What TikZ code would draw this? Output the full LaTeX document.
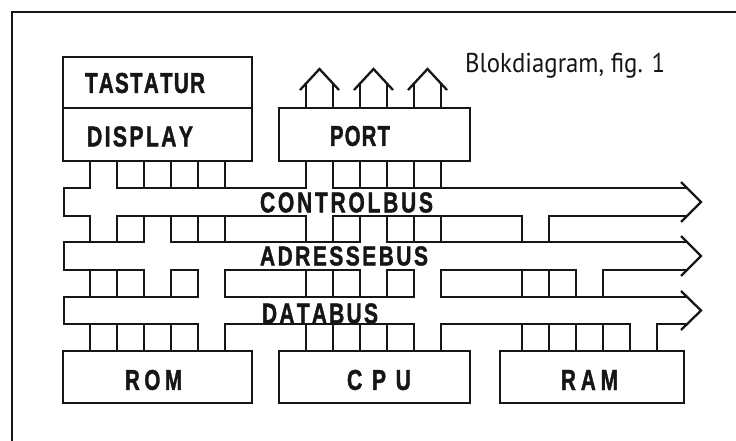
\documentclass[tikz,border=0pt]{standalone}
\usepackage{fontspec}
\usepackage{graphicx}
\newfontfamily\labfont{Liberation Sans}[BoldFeatures={FakeBold=1.6}]
\newfontfamily\blokfont{PT Sans}
\makeatletter
\newcommand\spc[2]{\def\spc@g{#1}\@tfor\spc@t:=#2\do{\spc@t\kern\spc@g}\unkern}
\makeatother
\newcommand\lbl[4][20]{\resizebox{#2pt}{#1pt}{\labfont\bfseries\spc{#3pt}{#4}}}
\definecolor{ink}{RGB}{22,22,22}
\tikzset{
  wire/.style={draw=ink,line width=2.3pt,line cap=rect},
  head/.style={draw=ink,line width=2.3pt,line join=miter,line cap=butt},
  boxline/.style={draw=ink,line width=2.5pt},
  frameline/.style={draw=ink,line width=1.6pt},
  txt/.style={inner sep=0pt,text=ink}
}
\begin{document}
\begin{tikzpicture}[x=1pt,y=-1pt]
\useasboundingbox (0,0) rectangle (736,441);
\fill[white] (0,0) rectangle (736,441);
% frame
\draw[frameline] (736,12) -- (12,12) -- (12,441);
% boxes
\draw[boxline] (63,57) rectangle (252,161);
\draw[boxline] (63,108) -- (252,108);
\draw[boxline] (279,108) rectangle (470,161);
\draw[boxline] (63,351) rectangle (252,403);
\draw[boxline] (279,351) rectangle (470,403);
\draw[boxline] (500,351) rectangle (684,403);
% up arrows on PORT
\foreach \xa in {306,360,414}{
  \pgfmathsetmacro\xb{\xa+27}
  \pgfmathsetmacro\xc{\xa+13.5}
  \draw[wire] (\xa,108) -- (\xa,84);
  \draw[wire] (\xb,108) -- (\xb,84);
  \draw[head] ({\xa-6},90) -- (\xc,69) -- ({\xb+6},90);
}
% band A: upper boxes -> controlbus
\foreach \k in {0,1,2,3,4,5,8,9,10,11,12,13}
  \draw[wire] ({90+27*\k},161) -- ({90+27*\k},188);
% band B: controlbus -> adressebus
\foreach \k in {0,1,2,3,4,5,8,9,10,11,12,13,16,17}
  \draw[wire] ({90+27*\k},216) -- ({90+27*\k},242);
% band C: adressebus -> databus
\foreach \k in {0,1,2,3,4,5,8,9,10,11,12,13,16,17,18,19}
  \draw[wire] ({90+27*\k},270) -- ({90+27*\k},297);
% band D: databus -> lower boxes
\foreach \k in {0,1,2,3,4,5,8,9,10,11,12,13,16,17,18,19,20,21}
  \draw[wire] ({90+27*\k},324) -- ({90+27*\k},351);
% controlbus outline
\foreach \a/\b in {64/90,117/306,333/687} \draw[wire] (\a,188) -- (\b,188);
\foreach \a/\b in {64/90,117/306,333/522,549/687} \draw[wire] (\a,216) -- (\b,216);
\draw[wire] (64,188) -- (64,216);
\draw[head] (681,182) -- (701,202) -- (681,222);
% adressebus outline
\foreach \a/\b in {64/144,171/360,387/687} \draw[wire] (\a,242) -- (\b,242);
\foreach \a/\b in {64/144,171/198,225/360,387/414,441/576,603/687} \draw[wire] (\a,270) -- (\b,270);
\draw[wire] (64,242) -- (64,270);
\draw[head] (681,236) -- (701,256) -- (681,276);
% databus outline
\foreach \a/\b in {64/198,225/414,441/687} \draw[wire] (\a,297) -- (\b,297);
\foreach \a/\b in {64/198,225/414,441/630,657/687} \draw[wire] (\a,324) -- (\b,324);
\draw[wire] (64,297) -- (64,324);
\draw[head] (681,291) -- (701,310.5) -- (681,330);
% labels
\node[txt] (tast) at (145,83) {\lbl{120}{0.6}{TASTATUR}};
\node[txt] (disp) at (140,136.5) {\lbl{106}{1.1}{DISPLAY}};
\node[txt] (port) at (360,136) {\lbl{60}{0.6}{PORT}};
\node[txt] (cbus) at (346.5,202.5) {\lbl{173}{1.3}{CONTROLBUS}};
\node[txt] (abus) at (344,256) {\lbl[19]{168}{1.2}{ADRESSEBUS}};
\node[txt] (dbus) at (320,313.5) {\lbl{116}{1.1}{DATABUS}};
\node[txt] (rom) at (153.5,380) {\lbl{57}{2.2}{ROM}};
\node[txt] (cpu) at (379,380) {\lbl{64}{4.5}{CPU}};
\node[txt] (ram) at (589.5,380) {\lbl{57}{2.4}{RAM}};
\node[txt,anchor=base west] (title) at (465,72.7) {\resizebox{200pt}{19.4pt}{\blokfont Blokdiagram, fig. 1}};
\end{tikzpicture}
\end{document}
